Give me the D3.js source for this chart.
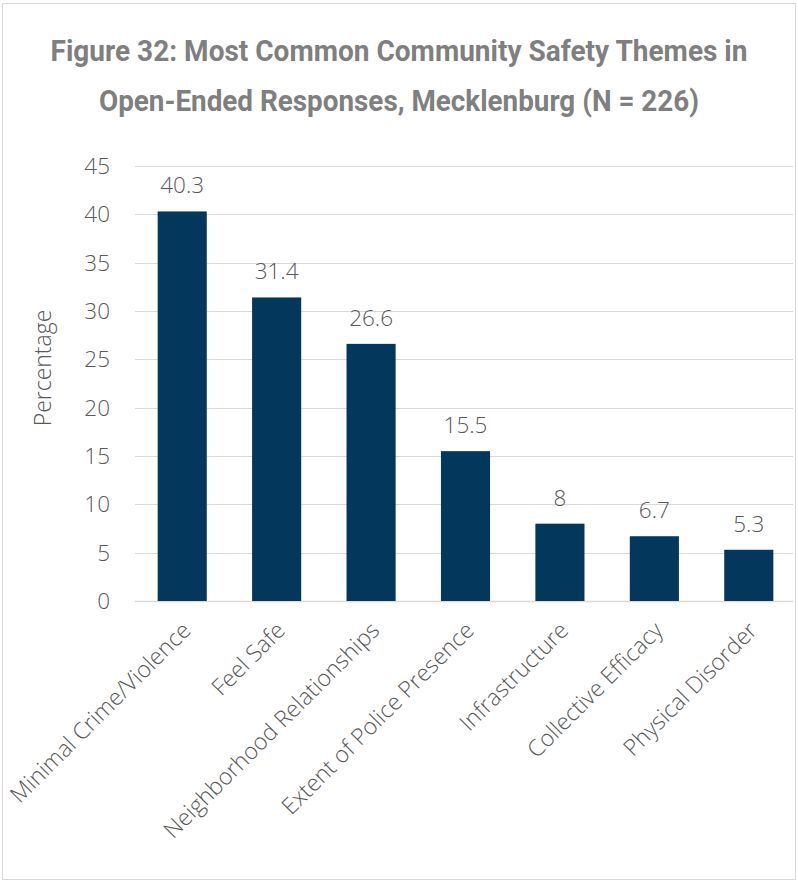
<!DOCTYPE html>
<html>
<head>
<meta charset="utf-8">
<script src="https://cdn.jsdelivr.net/npm/d3@7"></script>
<style>
  body { margin: 0; background: #fff; }
  svg text { font-family: "Open Sans", "Noto Sans", sans-serif; }
</style>
</head>
<body>
<div id="chart"></div>
<script>
  const categories = [
    "Minimal Crime/Violence",
    "Feel Safe",
    "Neighborhood Relationships",
    "Extent of Police Presence",
    "Infrastructure",
    "Collective Efficacy",
    "Physical Disorder"
  ]
  const values = [40.3, 31.4, 26.6, 15.5, 8, 6.7, 5.3]
  const yTicks = [0, 5, 10, 15, 20, 25, 30, 35, 40, 45]
  const titleLines = [
    "Figure 32: Most Common Community Safety Themes in",
    "Open-Ended Responses, Mecklenburg (N = 226)"
  ]

  const width = 798
  const height = 882
  const margin = { top: 166, right: 2, bottom: 281, left: 135 }
  const labelSize = "22.5px"

  const svg = d3.select("#chart").append("svg")
      .attr("width", width)
      .attr("height", height)

  // outer frame
  svg.append("rect")
      .attr("x", 2.5)
      .attr("y", 3.5)
      .attr("width", 793)
      .attr("height", 876)
      .attr("fill", "#fff")
      .attr("stroke", "#d9d9d9")

  svg.selectAll(".title-line")
    .data(titleLines)
    .enter().append("text")
      .attr("class", "title-line")
      .attr("x", width / 2)
      .attr("y", (d, i) => 61 + i * 50)
      .attr("text-anchor", "middle")
      .attr("fill", "#7f7f7f")
      .style("font-family", "Roboto, 'Open Sans', sans-serif")
      .style("font-weight", "bold")
      .style("font-size", "30px")
      .attr("textLength", (d, i) => i === 0 ? 697 : 600)
      .attr("lengthAdjust", "spacingAndGlyphs")
      .text(d => d)

  const x = d3.scaleBand()
      .domain(categories)
      .range([margin.left, width - margin.right])
      .paddingInner(0.48)
      .paddingOuter(0.24)

  const y = d3.scaleLinear()
      .domain([0, 45])
      .range([height - margin.bottom, margin.top])

  // gridlines
  svg.append("g")
    .selectAll("line")
    .data(yTicks)
    .enter().append("line")
      .attr("x1", margin.left)
      .attr("x2", 793)
      .attr("y1", d => Math.round(y(d)) + 0.5)
      .attr("y2", d => Math.round(y(d)) + 0.5)
      .attr("stroke", "#d9d9d9")
      .attr("stroke-width", d => d === 0 ? 1.5 : 1)

  // y tick labels
  svg.append("g")
    .selectAll("text")
    .data(yTicks)
    .enter().append("text")
      .attr("x", 110)
      .attr("y", d => y(d))
      .attr("dy", "0.36em")
      .attr("text-anchor", "end")
      .attr("fill", "#595959")
      .style("font-size", labelSize)
      .style("font-weight", 300)
      .text(d => d)

  svg.append("text")
      .attr("transform", "translate(43, 368) rotate(-90)")
      .attr("text-anchor", "middle")
      .attr("dy", "0.36em")
      .attr("fill", "#595959")
      .style("font-size", "23px")
      .style("font-weight", 300)
      .text("Percentage")

  svg.append("g")
    .selectAll("rect")
    .data(values)
    .enter().append("rect")
      .attr("x", (d, i) => x(categories[i]))
      .attr("y", d => y(d))
      .attr("width", x.bandwidth())
      .attr("height", d => y(0) - y(d))
      .attr("fill", "#03375b")

  // value labels
  svg.append("g")
    .selectAll("text")
    .data(values)
    .enter().append("text")
      .attr("x", (d, i) => x(categories[i]) + x.bandwidth() / 2)
      .attr("y", d => y(d) - 18)
      .attr("text-anchor", "middle")
      .attr("fill", "#595959")
      .style("font-size", labelSize)
      .style("font-weight", 300)
      .text(d => d)

  // category labels, rotated
  svg.append("g")
    .selectAll("text")
    .data(categories)
    .enter().append("text")
      .attr("transform", d => `translate(${x(d) + x.bandwidth() / 2 + 4}, 626) rotate(-45)`)
      .attr("text-anchor", "end")
      .attr("dy", "0.36em")
      .attr("fill", "#595959")
      .style("font-size", "23px")
      .style("font-weight", 300)
      .text(d => d)
</script>
</body>
</html>
